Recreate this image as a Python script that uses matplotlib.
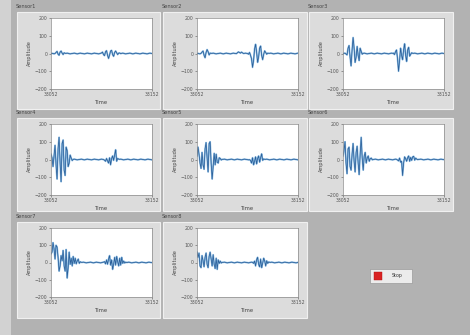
import numpy as np
import matplotlib
matplotlib.use("Agg")
import matplotlib.pyplot as plt
from matplotlib.patches import Rectangle

# tempo (amostras) e faixa do eixo y
t_inicio, t_fim = 33052, 33152
y_ticks = [200, 100, 0, -100, -200]
nomes = ["Sensor1", "Sensor2", "Sensor3", "Sensor4", "Sensor5", "Sensor6", "Sensor7", "Sensor8"]

# pequena ondulacao da linha de base
ruido = [1, 2, 1, -1, -2, -1, 0, 1, 2, 1, -1, -2, -1, 1, 2, 1, 0, -1, -2, -1,
         1, 2, 1, 0, -1, -2, -1, 1, 2, 1, 0, -1, -2, -1, 1, 2, 1, -1, -2, -1]

# sinais (101 amostras cada)
sensor1 = ([0, 1, 0, -2, 0]
           + [6, 12, -4, -10, 8, 14, 2, -6, 4, 1]
           + ruido[:35]
           + [3, 8, -6, -12, 10, 16, -10, -28, -8, 14, 18, -6, -16, 6, 14, 4, -6, 2, 3, -1]
           + ruido[:31])
sensor2 = ([0, 1, -1, -2, 1]
           + [8, 14, -10, -24, 6, 22, 10, -8, 2, 1]
           + ruido[:25]
           + [4, 9, 6, 2, 8, 4, 0, 1, 2, 1]
           + [0, -4, 6, -10, -30, -78, -40, 25, 52, 10, -50, -20, 30, 42, -10, -35, -5, 15, 6, -4, 2, 1]
           + ruido[:29])
sensor3 = ([0, 1, 2, -3, -8]
           + [30, 45, -20, -70, 20, 90, 30, -50, -20, 40, -10, -40, 30, 12, -4]
           + ruido[:30]
           + [2, -6, 10, 20, -30, -100, -40, 30, -10, -35, 20, 55, -10, -45, 20, 35, -15, -5, 4, 1]
           + ruido[:31])
sensor4 = ([30, 10, -40, 20, 80, -30, -110, 60, 125, -20, -125, 90, 110, -60, -90, 70, 50, -40, -20, 25, 8, -6]
           + ruido[:31]
           + [-4, -10, 6, -8, -20, 10, -30, 5, 20, -5, 25, 55, -10, 6, 2]
           + ruido[:33])
sensor5 = ([20, 70, 30, -20, -50, 40, -30, -55, 60, 95, 10, -70, 90, 100, -20, -110, -40, 35, -30, 30, -15, -20, 10, 6, -3, 1]
           + ruido[:27]
           + [-5, -20, 10, -30, -10, 15, -25, 5, 20, -15, 10, 32, -5, 3, 1]
           + ruido[:33])
sensor6 = ([20, 50, 100, -20, -80, 60, 70, -40, -60, 30, 90, -10, -70, 40, 75, -20, -85, 30, 125, 10,
            -60, 20, 40, -20, 10, 20, -10, 5, 8, -2, 0]
           + ruido[:23]
           + [-3, -8, 8, -15, -10, -90, -20, 15, 5, -10, 10, 20, -10, 12, -5, 15, 18, -4, 8, 2, -1, 1]
           + ruido[:25])
sensor7 = ([50, 60, 115, 80, 20, 100, 90, 30, -50, -20, 40, 10, 70, -20, -50, 75, -90, -30, 60, -10,
            25, -20, 35, -5, 25, -8, 10, 20, -5, 4, 1]
           + ruido[:22]
           + [5, -8, 15, -10, 20, 40, -15, 15, -40, -10, 30, -15, 35, 5, -20, 25, -15, 30, -5, 8, -3, 2, 0]
           + ruido[:25])
sensor8 = ([60, 30, 55, -20, -30, 40, 10, -25, 30, 55, -10, -30, 35, 60, 20, -20, 45, -10, -35, 25, -40, 15, -5, 8, -3, 1]
           + ruido[:30]
           + [-5, 8, -20, 15, 30, -10, -25, 20, -30, -5, 25, 10, -20, 10, -5, 3, 1]
           + ruido[:28])
sinais = [sensor1, sensor2, sensor3, sensor4, sensor5, sensor6, sensor7, sensor8]

W, H = 470, 335
fig = plt.figure(figsize=(W / 100, H / 100), dpi=100)
fig.patch.set_facecolor("#b2b2b2")


def caixa(x0, y0, x1, y1):
    return [x0 / W, 1 - y1 / H, (x1 - x0) / W, (y1 - y0) / H]


def retangulo(x0, y0, x1, y1, z=-10, **kw):
    r = Rectangle((x0 / W, 1 - y1 / H), (x1 - x0) / W, (y1 - y0) / H,
                  transform=fig.transFigure, zorder=z, **kw)
    fig.add_artist(r)


# faixa clara a esquerda
retangulo(0, 0, 11, H, facecolor="#d2d2d2", edgecolor="none")

colunas = [17, 163, 309]
larguras = [143, 144, 144]
linhas = [(12, 109), (118, 211), (222, 318)]

for i, (nome, sinal) in enumerate(zip(nomes, sinais)):
    lin, col = divmod(i, 3)
    fx0 = colunas[col]
    fx1 = fx0 + larguras[col]
    fy0, fy1 = linhas[lin]

    fig.text((fx0 - 1) / W, 1 - (fy0 - 5) / H, nome, fontsize=3.6, color="#444444",
             ha="left", va="center")
    retangulo(fx0, fy0, fx1, fy1, facecolor="#dcdcdc", edgecolor="#f0f0f0", linewidth=0.8)

    px0 = fx0 + 34
    px1 = px0 + 101
    py0 = fy0 + 6
    py1 = fy0 + 77 if lin < 2 else fy0 + 75
    ax = fig.add_axes(caixa(px0, py0, px1, py1))
    ax.set_facecolor("white")
    t = np.arange(t_inicio, t_inicio + len(sinal))
    ax.plot(t, sinal, color="#8fbde3", linewidth=1.3)
    ax.plot(t, sinal, color="#2a5f99", linewidth=0.55)
    ax.set_xlim(t_inicio, t_fim)
    ax.set_ylim(-200, 200)
    ax.set_yticks(y_ticks)
    ax.set_xticks([t_inicio, t_fim])
    ax.set_xticklabels([str(t_inicio), str(t_fim)])
    ax.tick_params(labelsize=3.3, length=1.5, width=0.4, pad=1, colors="#555555")
    for s in ax.spines.values():
        s.set_color("#8a8a8a")
        s.set_linewidth(0.5)
    ax.set_xlabel("Time", fontsize=3.8, labelpad=2, color="#444444")
    ax.set_ylabel("Amplitude", fontsize=3.6, labelpad=2, color="#444444")

# botao Stop
retangulo(370, 269, 412, 283, z=1, facecolor="#ececec", edgecolor="#9a9a9a", linewidth=0.5)
retangulo(374, 272, 382, 280, z=2, facecolor="#d92222", edgecolor="#b01010", linewidth=0.3)
fig.text(397 / W, 1 - 276 / H, "Stop", fontsize=3.4, color="#333333", ha="center", va="center")

fig.savefig("out.png", dpi=100, facecolor=fig.get_facecolor())
